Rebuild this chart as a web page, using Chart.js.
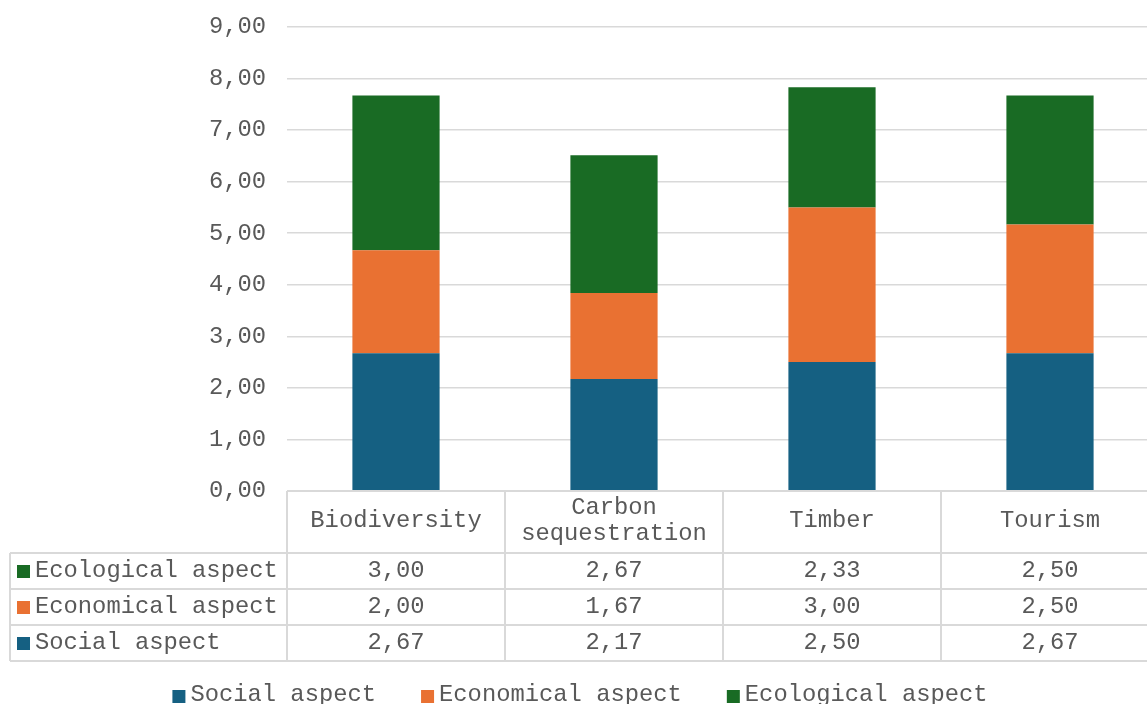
<!DOCTYPE html>
<html>
<head>
<meta charset="utf-8">
<script src="https://cdn.jsdelivr.net/npm/chart.js@4/dist/chart.umd.min.js"></script>
<style>
  html, body { margin: 0; padding: 0; background: #ffffff; overflow: hidden; }
  #wrap { position: relative; width: 1160px; height: 704px; }
</style>
</head>
<body>
<div id="wrap"><canvas id="chart"></canvas></div>
<script>
// Categories and scores per aspect
const categories = [['Biodiversity'], ['Carbon', 'sequestration'], ['Timber'], ['Tourism']];
const socialValues = [2.67, 2.17, 2.50, 2.67];
const economicalValues = [2.00, 1.67, 3.00, 2.50];
const ecologicalValues = [3.00, 2.67, 2.33, 2.50];
const seriesNames = ['Social aspect', 'Economical aspect', 'Ecological aspect'];
const seriesColors = ['#156082', '#E97132', '#196B24'];
const yMin = 0, yMax = 9, yStep = 1;

const FONT = 'Liberation Mono';
const FONT_SIZE = 23.8;
const TEXT_COLOR = '#595959';
const LINE_COLOR = '#d9d9d9';

const fmt = v => v.toFixed(2).replace('.', ',');

// Data table under the plot plus the bottom legend
const tablePlugin = {
  id: 'dataTable',
  afterDraw(chart) {
    const ctx = chart.ctx;
    const xs = chart.scales.x;
    const area = chart.chartArea;
    const n = categories.length;
    const colW = xs.getPixelForValue(1) - xs.getPixelForValue(0);
    const edges = [];
    for (let i = 0; i <= n; i++) edges.push(xs.getPixelForValue(0) - colW / 2 + i * colW);
    const tableLeft = 10;
    const headTop = area.bottom;
    const headBottom = headTop + 62;
    const rowH = 36;
    const rowsOrder = [2, 1, 0];
    const tableBottom = headBottom + rowH * rowsOrder.length;

    ctx.save();
    ctx.strokeStyle = LINE_COLOR;
    ctx.lineWidth = 2;
    ctx.beginPath();
    ctx.moveTo(edges[0], headTop); ctx.lineTo(edges[n], headTop);
    for (let r = 0; r <= rowsOrder.length; r++) {
      const yy = headBottom + r * rowH;
      ctx.moveTo(tableLeft, yy); ctx.lineTo(edges[n], yy);
    }
    edges.forEach(ex => { ctx.moveTo(ex, headTop); ctx.lineTo(ex, tableBottom); });
    ctx.moveTo(tableLeft, headBottom); ctx.lineTo(tableLeft, tableBottom);
    ctx.stroke();

    ctx.font = FONT_SIZE + 'px "' + FONT + '"';
    ctx.fillStyle = TEXT_COLOR;
    ctx.textBaseline = 'middle';
    ctx.textAlign = 'center';
    // Header row
    categories.forEach((lines, i) => {
      const cx = xs.getPixelForValue(i);
      const lh = 26;
      const cy = (headTop + headBottom) / 2 - 1;
      lines.forEach((t, k) => {
        ctx.fillText(t, cx, cy + (k - (lines.length - 1) / 2) * lh);
      });
    });
    // Value rows
    rowsOrder.forEach((di, r) => {
      const ds = chart.data.datasets[di];
      const cy = headBottom + r * rowH + rowH / 2;
      ctx.fillStyle = ds.backgroundColor;
      ctx.fillRect(17, cy - 6, 13, 13);
      ctx.fillStyle = TEXT_COLOR;
      ctx.textAlign = 'left';
      ctx.fillText(ds.label, 35, cy);
      ctx.textAlign = 'center';
      ds.data.forEach((v, i) => ctx.fillText(fmt(v), xs.getPixelForValue(i), cy));
    });

    // Bottom legend
    const box = 13, gap = 5, itemGap = 45;
    const items = chart.data.datasets.map(ds => ({ label: ds.label, color: ds.backgroundColor, w: ctx.measureText(ds.label).width }));
    const total = items.reduce((s, it) => s + box + gap + it.w, 0) + itemGap * (items.length - 1);
    let lx = chart.width / 2 - total / 2;
    const ly = 695;
    ctx.textAlign = 'left';
    items.forEach(it => {
      ctx.fillStyle = it.color;
      ctx.fillRect(lx, ly - 5, box, box);
      ctx.fillStyle = TEXT_COLOR;
      ctx.fillText(it.label, lx + box + gap, ly);
      lx += box + gap + it.w + itemGap;
    });
    ctx.restore();
  }
};

const seriesValues = [socialValues, economicalValues, ecologicalValues];

new Chart(document.getElementById('chart'), {
  type: 'bar',
  data: {
    labels: categories,
    datasets: seriesNames.map((name, i) => ({
      label: name,
      data: seriesValues[i],
      backgroundColor: seriesColors[i],
      borderWidth: 0,
      barPercentage: 0.4,
      categoryPercentage: 1.0
    }))
  },
  options: {
    responsive: true,
    maintainAspectRatio: false,
    animation: false,
    layout: { padding: { left: 0, right: 1, top: 27, bottom: 213 } },
    plugins: {
      legend: { display: false },
      tooltip: { enabled: false }
    },
    scales: {
      x: {
        stacked: true,
        display: false
      },
      y: {
        stacked: true,
        min: yMin,
        max: yMax,
        ticks: {
          stepSize: yStep,
          padding: 21,
          color: TEXT_COLOR,
          font: { family: FONT, size: FONT_SIZE },
          callback: v => fmt(v)
        },
        grid: { color: LINE_COLOR, lineWidth: 1.5, drawTicks: false },
        border: { display: false },
        afterFit(scale) {
          scale.width = 287;
          scale.paddingTop = 0;
          scale.paddingBottom = 0;
        }
      }
    }
  },
  plugins: [tablePlugin]
});
</script>
</body>
</html>
